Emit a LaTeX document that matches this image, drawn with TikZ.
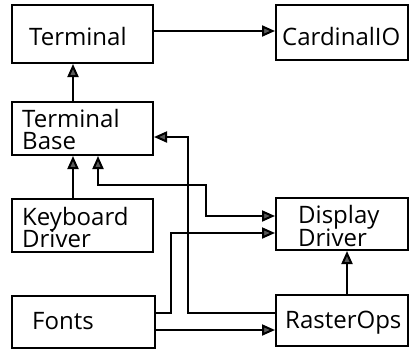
\documentclass[tikz,border=0pt]{standalone}
\usepackage{fontspec}
\setmainfont{Open Sans}
\usetikzlibrary{arrows.meta,fit}
\begin{document}
\begin{tikzpicture}[x=1pt,y=-1pt,
  box/.style={draw,line width=2pt,inner sep=0pt},
  lbl/.style={anchor=base west,inner sep=0pt,font=\fontsize{24}{22}\selectfont,align=left},
  link/.style={line width=2pt},
  tip/.tip={Triangle[length=13pt,width=11pt,fill=black!65]},
  arr/.style={link,-tip},
  biarr/.style={link,tip-tip}]
\fill[white] (0,0) rectangle (409,351);
\useasboundingbox (0,0) rectangle (409,351);

% module boxes
\node[box,fit={(12,5) (153,63)}] (term) {};
\node[box,fit={(276,5) (407.5,60)}] (cardio) {};
\node[box,fit={(12,102) (153,155)}] (tbase) {};
\node[box,fit={(12,199) (153,252)}] (kbd) {};
\node[box,fit={(276,198) (407.5,250)}] (disp) {};
\node[box,fit={(12,296) (155,348)}] (fonts) {};
\node[box,fit={(276,295) (407.5,346)}] (raster) {};

% module names
\node[lbl] (termT) at (29,45) {Terminal};
\node[lbl] (cardioT) at (282,45) {CardinalIO};
\node[lbl] (tbaseT1) at (22,127) {Terminal};
\node[lbl] (tbaseT2) at (22,149) {Base};
\node[lbl] (kbdT1) at (22,225) {Keyboard};
\node[lbl] (kbdT2) at (22,247) {Driver};
\node[lbl] (dispT1) at (298,223) {Display};
\node[lbl] (dispT2) at (298,246) {Driver};
\node[lbl] (fontsT) at (32,329) {Fonts};
\node[lbl] (rasterT) at (285,328) {RasterOps};

% bend points of the connectors
\coordinate (xa) at (73,0);
\coordinate (xg) at (347,0);
\coordinate (yt) at (0,31);
\coordinate (yf) at (0,330);
\coordinate (b1) at (98,185);
\coordinate (b2) at (206,185);
\coordinate (b3) at (206,216);
\coordinate (r1) at (188,313);
\coordinate (r2) at (188,137);
\coordinate (f1) at (171,313);
\coordinate (f2) at (171,233);

% dependencies
\draw[arr] (term.east |- yt) -- (cardio.west |- yt);
\draw[arr] (tbase.north -| xa) -- (term.south -| xa);
\draw[arr] (kbd.north -| xa) -- (tbase.south -| xa);
\draw[biarr] (tbase.south -| b1) -- (b1) -- (b2) -- (b3) -- (disp.west |- b3);
\draw[arr] (raster.west |- r1) -- (r1) -- (r2) -- (tbase.east |- r2);
\draw[arr] (fonts.east |- f1) -- (f1) -- (f2) -- (disp.west |- f2);
\draw[arr] (fonts.east |- yf) -- (raster.west |- yf);
\draw[arr] (raster.north -| xg) -- (disp.south -| xg);
\end{tikzpicture}
\end{document}
